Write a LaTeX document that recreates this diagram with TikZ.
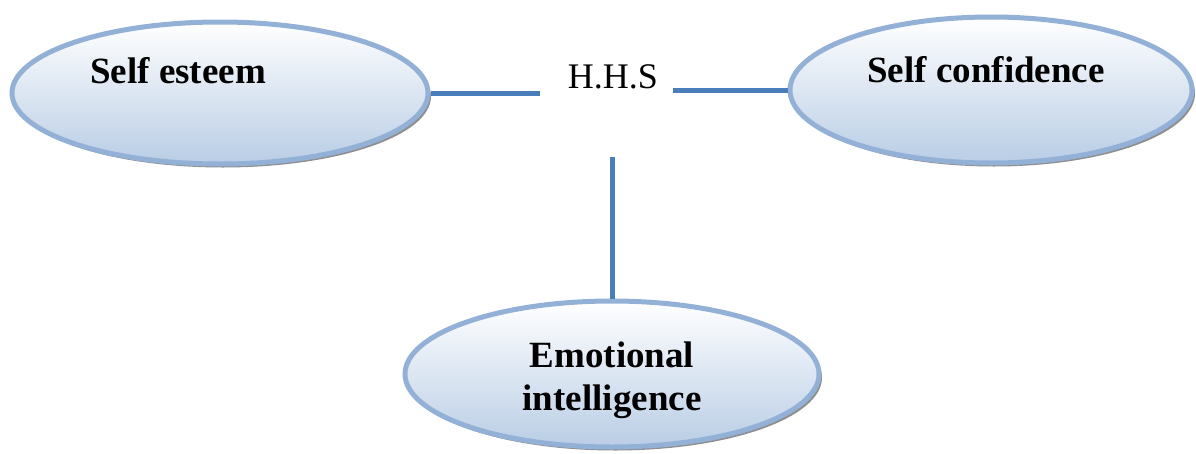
\documentclass[tikz,border=0pt]{standalone}
\usepackage{fontspec}
\setmainfont{Liberation Serif}
\usetikzlibrary{shapes.geometric,shadows,calc}
\definecolor{rimblue}{HTML}{93B1D6}
\definecolor{fillblue}{HTML}{B9CDE5}
\definecolor{linkblue}{HTML}{4A7EBB}
\tikzset{
  bubble/.style={ellipse, draw=rimblue, line width=5pt, inner sep=0pt,
    top color=white, bottom color=fillblue,
    drop shadow={shadow xshift=3pt, shadow yshift=-3.5pt, fill=black!55, opacity=0.8}},
  link/.style={draw=linkblue, line width=5pt},
  boldlabel/.style={font=\fontsize{37}{40}\selectfont\bfseries, inner sep=0pt, anchor=base},
}
\begin{document}
\begin{tikzpicture}[x=1pt,y=-1pt]
  \useasboundingbox (0,0) rectangle (1196,453);

  % the three ellipses
  \node[bubble, minimum width=416pt, minimum height=142pt] (se) at (220,93) {};
  \node[bubble, minimum width=402pt, minimum height=146pt] (sc) at (991,90) {};
  \node[bubble, minimum width=414pt, minimum height=146pt] (ei) at (612,374) {};

  % their labels
  \node[boldlabel] (setext) at (178,83) {Self esteem};
  \node[boldlabel] (sctext) at (986,82) {Self confidence};
  \node[boldlabel, align=center, font=\fontsize{37}{43}\selectfont\bfseries] (eitext) at (612,410) {Emotional\\intelligence};

  % centre label
  \node[font=\fontsize{36}{40}\selectfont, inner sep=0pt, anchor=base] (hhs) at (613,88) {H.H.S};

  % connectors
  \draw[link] (se.east) -- ([xshift=-28pt]se.east -| hhs.west);
  \draw[link] (sc.west) -- ([xshift=15pt]sc.west -| hhs.east);
  \draw[link] (ei.north) -- ([yshift=-69pt]ei.north |- hhs.base);
\end{tikzpicture}
\end{document}
